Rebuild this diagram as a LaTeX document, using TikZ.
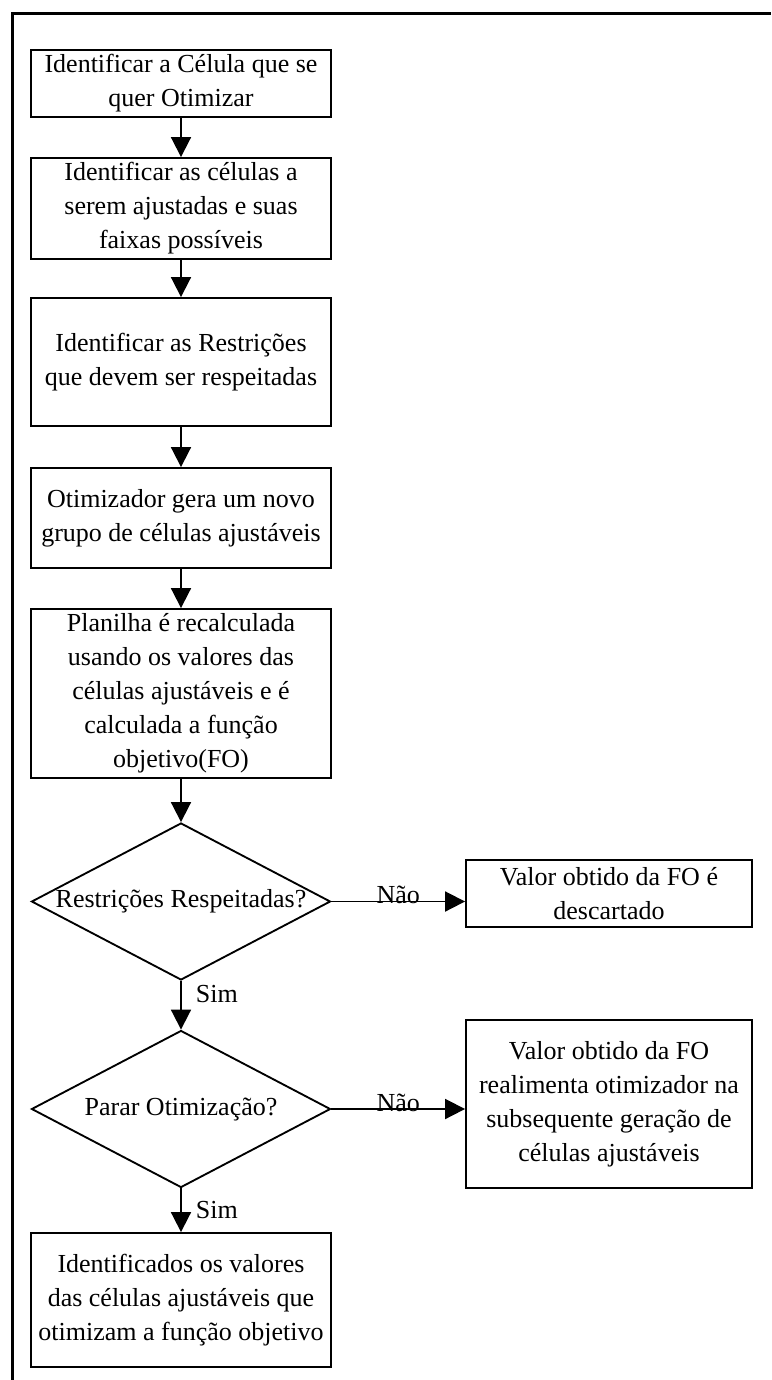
\documentclass[tikz,border=0pt]{standalone}
\usepackage{fontspec}
\setmainfont{Liberation Serif}
\usetikzlibrary{ shapes.geometric, % For the decision diamonds
                 arrows.meta,
                 positioning,      % For easy node-relative placements
               }
\tikzstyle{stepbox} = [rectangle, draw=black, line width=1.4pt, align=center, inner sep=0pt, minimum width=225pt, font=\fontsize{19.5pt}{25.5pt}\selectfont]
\tikzstyle{sidebox} = [stepbox, minimum width=214.5pt]
\tikzstyle{decision} = [diamond, draw=black, line width=1.4pt, inner sep=0pt, minimum width=224.25pt, minimum height=117.75pt]
\tikzstyle{answer} = [inner sep=0pt, font=\fontsize{19.5pt}{25.5pt}\selectfont]
\tikzstyle{flow} = [-{Triangle[length=15pt, width=15pt]}, line width=1.4pt]

\begin{document}
\begin{tikzpicture}[x=0.75pt, y=-0.75pt]
  \useasboundingbox (0, 0) rectangle (771, 1380);
  % outer frame, cut off on the right and at the bottom
  \draw [line width=2.25pt] (12, 1380) -- (12, 14) -- (771, 14);

  \node (cell) [stepbox, minimum height=50.25pt] at (181, 83.5) {Identificar a Célula que se\\quer Otimizar};
  \node (adjust) [stepbox, minimum height=75.75pt] at (181, 208.5) {Identificar as células a\\serem ajustadas e suas\\faixas possíveis};
  \node (constr) [stepbox, minimum height=96pt] at (181, 362) {Identificar as Restrições\\que devem ser respeitadas};
  \node (newgroup) [stepbox, minimum height=75pt] at (181, 518) {Otimizador gera um novo\\grupo de células ajustáveis};
  \node (recalc) [stepbox, minimum height=126.75pt] at (181, 693.5) {Planilha é recalculada\\usando os valores das\\células ajustáveis e é\\calculada a função\\objetivo(FO)};
  \node (respected) [decision, label={[answer]center:Restrições Respeitadas?}] at (181, 901.5) {};
  \node (discard) [sidebox, minimum height=50.25pt] at (609, 893.5) {Valor obtido da FO é\\descartado};
  \node (stop) [decision, label={[answer]center:Parar Otimização?}] at (181, 1109) {};
  \node (feedback) [sidebox, minimum height=126pt] at (609, 1104) {Valor obtido da FO\\realimenta otimizador na\\subsequente geração de\\células ajustáveis};
  \node (result) [stepbox, minimum height=100.5pt] at (181, 1300) {Identificados os valores\\das células ajustáveis que\\otimizam a função objetivo};

  \draw [flow] (cell) -- (adjust);
  \draw [flow] (adjust) -- (constr);
  \draw [flow] (constr) -- (newgroup);
  \draw [flow] (newgroup) -- (recalc);
  \draw [flow] (recalc) -- (respected);
  \draw [flow] (respected.east) -- node [answer, anchor=base, yshift=-1.5pt] {Não} (respected.east -| discard.west);
  \draw [flow] (respected) -- node [answer, pos=0.27, anchor=west, xshift=10.5pt] {Sim} (stop);
  \draw [flow] (stop.east) -- node [answer, anchor=base, yshift=-1.5pt] {Não} (stop.east -| feedback.west);
  \draw [flow] (stop) -- node [answer, pos=0.5, anchor=west, xshift=10.5pt] {Sim} (result);
\end{tikzpicture}
\end{document}
